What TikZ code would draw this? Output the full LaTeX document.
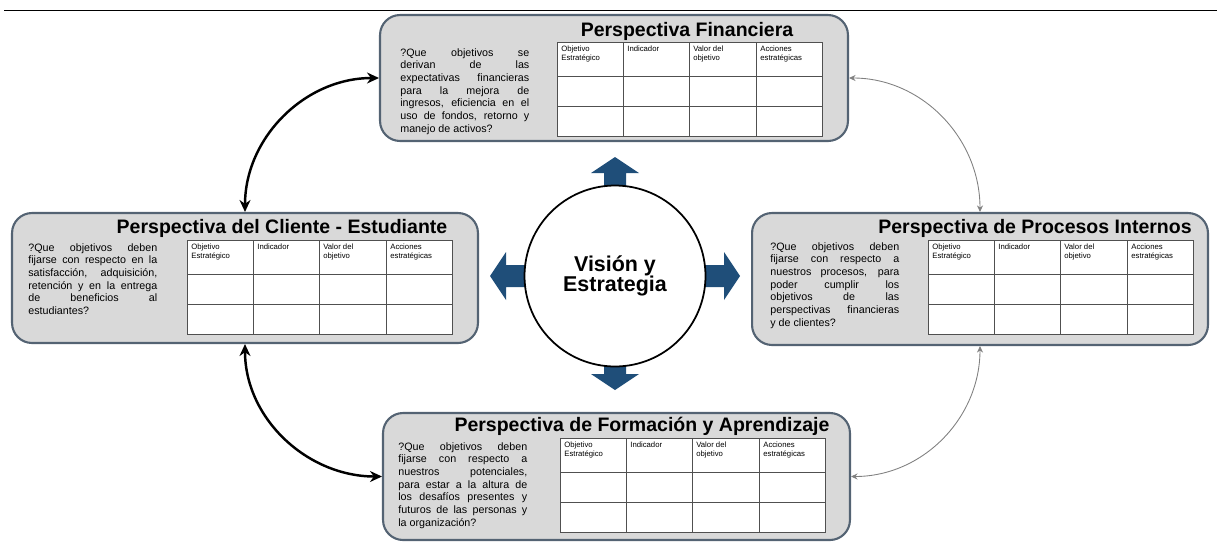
\documentclass[tikz,border=0pt]{standalone}
\usepackage{fontspec}
\setmainfont{Liberation Sans}
\usetikzlibrary{arrows.meta}
\definecolor{grisCaja}{RGB}{217,217,217}
\definecolor{bordeCaja}{RGB}{84,99,115}
\definecolor{azulFlecha}{RGB}{31,78,121}
\definecolor{lineaTabla}{RGB}{80,80,80}
\tikzset{%
  >={Stealth[width=2.2mm,length=2.4mm]},
       caja/.style = {rectangle, rounded corners=0.4cm, draw=bordeCaja,
                      line width=1.2pt, fill=grisCaja},
     titulo/.style = {inner sep=0pt, font=\fontsize{11.1}{12}\selectfont\bfseries},
   pregunta/.style = {anchor=north west, text width=2.58cm, align=justify,
                      inner sep=0pt, font=\fontsize{6.1}{7.2}\selectfont},
      celda/.style = {anchor=north west, inner sep=0pt, align=left,
                      font=\fontsize{4.4}{5.1}\selectfont},
      tabla/.style = {draw=lineaTabla, line width=0.5pt},
     vision/.style = {circle, draw=black, line width=1pt, fill=white,
                      minimum size=3.62cm, align=center,
                      font=\fontsize{12.2}{11.5}\selectfont\bfseries},
     flecha/.style = {fill=azulFlecha},
     enlace/.style = {<->, line width=1.4pt, black},
 enlacefino/.style = {<->, line width=0.5pt, gray,
                      >={Stealth[width=1.2mm,length=1.3mm]}},
}
% tabla de objetivos (esquina superior izquierda)
\newcommand{\tablaobj}[1]{%
  \begin{scope}[shift={(#1)}]
    \draw[tabla, fill=white] (0,0) rectangle (265,94);
    \foreach \cx in {66,132,199} \draw[tabla] (\cx,0) -- (\cx,94);
    \foreach \fy in {34,64} \draw[tabla] (0,\fy) -- (265,\fy);
    \node[celda] at (4,4)   {Objetivo\\Estratégico};
    \node[celda] at (70,4)  {Indicador};
    \node[celda] at (136,4) {Valor del\\objetivo};
    \node[celda] at (203,4) {Acciones\\estratégicas};
  \end{scope}}

\begin{document}
\begin{tikzpicture}[x=0.02cm, y=-0.02cm]
  \useasboundingbox (0,0) rectangle (1217,542);
  \draw (4,10) -- (1217,10);

  % cajas
  \node (fin) [caja, minimum width=9.36cm, minimum height=2.52cm] at (614,78)    {};
  \node (cli) [caja, minimum width=9.32cm, minimum height=2.6cm]  at (245,278)   {};
  \node (pro) [caja, minimum width=9.12cm, minimum height=2.64cm] at (980,279)   {};
  \node (for) [caja, minimum width=9.34cm, minimum height=2.54cm] at (616.5,476.5) {};

  \node (tFin) [titulo] at (687,31)    {Perspectiva Financiera};
  \node (tCli) [titulo] at (282,228)   {Perspectiva del Cliente - Estudiante};
  \node (tPro) [titulo] at (1035,228)  {Perspectiva de Procesos Internos};
  \node (tFor) [titulo] at (642,426)   {Perspectiva de Formación y Aprendizaje};

  \node (qFin) [pregunta] at (400,48) {?Que objetivos se\linebreak derivan de las\linebreak
    expectativas financieras\linebreak para la mejora de\linebreak ingresos, eficiencia en el\linebreak
    uso de fondos, retorno y\linebreak manejo de activos?};
  \node (qCli) [pregunta] at (28,243) {?Que objetivos deben\linebreak fijarse con respecto en la\linebreak
    satisfacción, adquisición,\linebreak retención y en la entrega\linebreak de beneficios al\linebreak
    estudiantes?};
  \node (qPro) [pregunta] at (770,242) {?Que objetivos deben\linebreak fijarse con respecto a\linebreak
    nuestros procesos, para\linebreak poder cumplir los\linebreak objetivos de las\linebreak
    perspectivas financieras\linebreak y de clientes?};
  \node (qFor) [pregunta] at (398,442) {?Que objetivos deben\linebreak fijarse con respecto a\linebreak
    nuestros potenciales,\linebreak para estar a la altura de\linebreak los desafíos presentes y\linebreak
    futuros de las personas y\linebreak la organización?};

  \tablaobj{557,42}
  \tablaobj{187,240}
  \tablaobj{928,240}
  \tablaobj{560,438}

  % centro
  \coordinate (centro) at (615,276);
  \foreach \ang/\largo in {0/125, 90/119, 180/125, 270/114}
    \fill[flecha, shift={(centro)}, rotate=\ang]
      (0,-11) -- (\largo-16,-11) -- (\largo-16,-24) -- (\largo,0)
      -- (\largo-16,24) -- (\largo-16,11) -- (0,11) -- cycle;
  \node (vision) [vision] at (centro) {Visión y\\Estrategia};

  \draw[enlace]     (fin.west)  to[out=180, in=90]  (cli.north);
  \draw[enlace]     (cli.south) to[out=-90, in=180] (for.west);
  \draw[enlacefino] (fin.east)  to[out=0,   in=90]  (pro.north);
  \draw[enlacefino] (pro.south) to[out=-90, in=0]   (for.east);
\end{tikzpicture}
\end{document}
